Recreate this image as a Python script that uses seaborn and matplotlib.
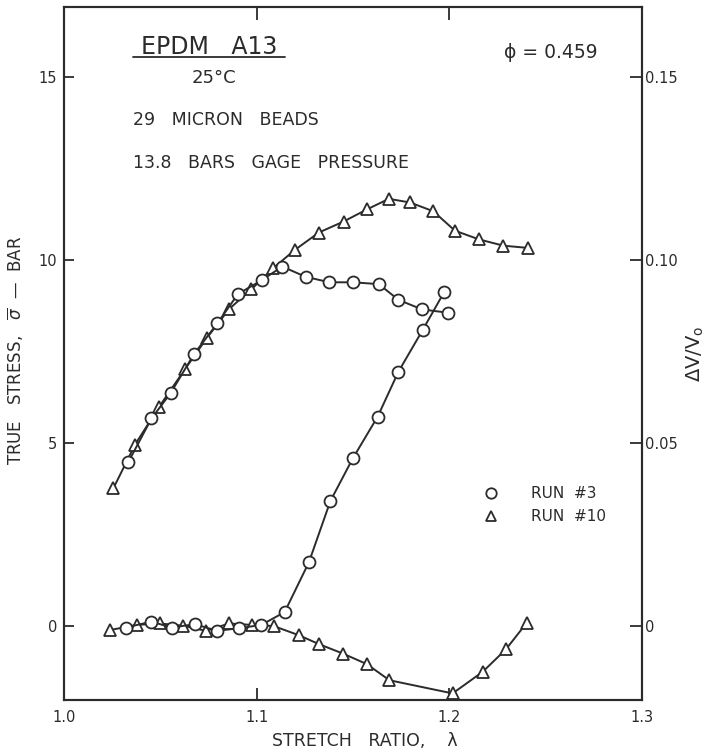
import matplotlib
matplotlib.use("Agg")
import matplotlib.pyplot as plt
from matplotlib.lines import Line2D
import seaborn as sns

# Stretch ratio / true stress, run 3 (circles) and run 10 (triangles)
lam_s3 = [1.0333, 1.0454, 1.0553, 1.0675, 1.0796, 1.0903, 1.1027, 1.1133,
          1.1254, 1.1378, 1.1499, 1.1634, 1.1736, 1.1858, 1.1991]
sig_3 = [4.47, 5.67, 6.36, 7.43, 8.27, 9.07, 9.45, 9.82,
         9.54, 9.39, 9.39, 9.34, 8.91, 8.65, 8.56]

lam_s10 = [1.0256, 1.0368, 1.0494, 1.0627, 1.0743, 1.0857, 1.0973, 1.1085,
           1.1197, 1.1323, 1.1451, 1.1572, 1.1686, 1.1796, 1.1917, 1.2029,
           1.2155, 1.2281, 1.2406]
sig_10 = [3.76, 4.95, 5.99, 7.01, 7.88, 8.66, 9.20, 9.77,
          10.27, 10.75, 11.05, 11.38, 11.67, 11.57, 11.33, 10.80,
          10.56, 10.39, 10.33]

# Stretch ratio / volume change dV/V0
lam_v3 = [1.0321, 1.0454, 1.0558, 1.0679, 1.0795, 1.0908, 1.1024, 1.1145,
          1.1271, 1.1383, 1.1499, 1.1628, 1.1736, 1.1862, 1.1974]
dv_3 = [-0.0004, 0.0012, -0.0004, 0.0005, -0.0013, -0.0006, 0.0003, 0.0038,
        0.0174, 0.0342, 0.0458, 0.0572, 0.0695, 0.0809, 0.0913]

lam_v10 = [1.0238, 1.0377, 1.0497, 1.0618, 1.0736, 1.0857, 1.0978, 1.1088,
           1.1219, 1.1326, 1.1447, 1.1572, 1.1689, 1.2017, 1.2173, 1.2293,
           1.2402]
dv_10 = [-0.0011, 0.0003, 0.0007, 0.0001, -0.0013, 0.0007, 0.0003, 0.0000,
         -0.0025, -0.0050, -0.0075, -0.0104, -0.0148, -0.0184, -0.0125, -0.0064,
         0.0009]

x_ticks = [1.0, 1.1, 1.2, 1.3]
x_ticklabels = ["1.0", "1.1", "1.2", "1.3"]
stress_ticks = [0, 5, 10, 15]
stress_ticklabels = ["0", "5", "10", "15"]
dv_ticks = [0, 0.05, 0.10, 0.15]
dv_ticklabels = ["0", "0.05", "0.10", "0.15"]

sns.set_style("ticks")
plt.rcParams["font.family"] = ["DejaVu Sans"]
plt.rcParams["mathtext.fontset"] = "dejavusans"

ink = "#2b2b2b"

fig = plt.figure(figsize=(7.08, 7.53), dpi=100)
ax = fig.add_axes([64 / 708, 1 - 700 / 753, 578 / 708, 693 / 753])
ax2 = ax.twinx()

y_lo, y_hi = -2.02, 16.91
ax.set_xlim(1.0, 1.3)
ax.set_ylim(y_lo, y_hi)
ax2.set_ylim(y_lo / 100, y_hi / 100)

circle = dict(marker="o", markersize=8.6, markerfacecolor="white",
              markeredgecolor=ink, markeredgewidth=1.3)
triangle = dict(marker="^", markersize=9.0, markerfacecolor="white",
                markeredgecolor=ink, markeredgewidth=1.3)

sns.lineplot(x=lam_s10, y=sig_10, ax=ax, color=ink, linewidth=1.4,
             legend=False, **triangle)
sns.lineplot(x=lam_s3, y=sig_3, ax=ax, color=ink, linewidth=1.4,
             legend=False, **circle)
sns.lineplot(x=lam_v10, y=dv_10, ax=ax2, color=ink, linewidth=1.4,
             legend=False, **triangle)
sns.lineplot(x=lam_v3, y=dv_3, ax=ax2, color=ink, linewidth=1.4,
             legend=False, **circle)

# Axes frame and inward ticks on all four sides
for a in (ax, ax2):
    for s in a.spines.values():
        s.set_linewidth(1.5)
        s.set_color(ink)

ax.set_xticks(x_ticks)
ax.set_xticklabels(x_ticklabels)
ax.set_yticks(stress_ticks)
ax.set_yticklabels(stress_ticklabels)
ax2.set_yticks(dv_ticks)
ax2.set_yticklabels(dv_ticklabels)

ax.tick_params(axis="x", direction="in", top=True, length=9, width=1.3,
               color=ink, labelcolor=ink, labelsize=10.5, pad=7)
ax.tick_params(axis="y", direction="in", right=False, length=7, width=1.3,
               color=ink, labelcolor=ink, labelsize=10.5, pad=5)
ax2.tick_params(axis="y", direction="in", length=9, width=1.3,
                color=ink, labelcolor=ink, labelsize=10.5, pad=2)

ax.set_xlabel("STRETCH   RATIO,    λ", fontsize=12.5, color=ink)
ax.xaxis.set_label_coords(0.52, -0.046)
ax.set_ylabel(r"TRUE   STRESS,   $\overline{\sigma}$  —  BAR", fontsize=12,
              color=ink)
ax.yaxis.set_label_coords(-0.066, 0.505)
ax2.set_ylabel(r"$\Delta$V/V$_\mathregular{o}$", fontsize=14, color=ink)
ax2.yaxis.set_label_coords(1.074, 0.50)

# Annotations describing the test conditions
ax.text(0.252, 0.943, "EPDM   A13", transform=ax.transAxes, fontsize=17,
        color=ink, ha="center", va="center")
fig.add_artist(Line2D([133 / 708, 285 / 708], [1 - 57 / 753, 1 - 57 / 753],
                      color=ink, linewidth=1.3))
ax.text(0.260, 0.897, "25°C", transform=ax.transAxes, fontsize=13,
        color=ink, ha="center", va="center")
ax.text(0.119, 0.837, "29   MICRON   BEADS", transform=ax.transAxes,
        fontsize=12.5, color=ink, ha="left", va="center")
ax.text(0.119, 0.775, "13.8   BARS   GAGE   PRESSURE", transform=ax.transAxes,
        fontsize=12.5, color=ink, ha="left", va="center")
ax.text(0.843, 0.935, "ϕ = 0.459", transform=ax.transAxes, fontsize=13.5,
        color=ink, ha="center", va="center")

handles = [Line2D([], [], linestyle="none", color=ink, **circle),
           Line2D([], [], linestyle="none", color=ink, **triangle)]
for h in handles:
    h.set_markersize(7.5)
ax.legend(handles, ["RUN  #3", "RUN  #10"], loc="center left",
          bbox_to_anchor=(0.71, 0.281), frameon=False, fontsize=11,
          handlelength=1.2, handletextpad=2.0, labelspacing=0.5,
          borderpad=0, labelcolor=ink)

fig.savefig("out.png", dpi=100, facecolor="white")
